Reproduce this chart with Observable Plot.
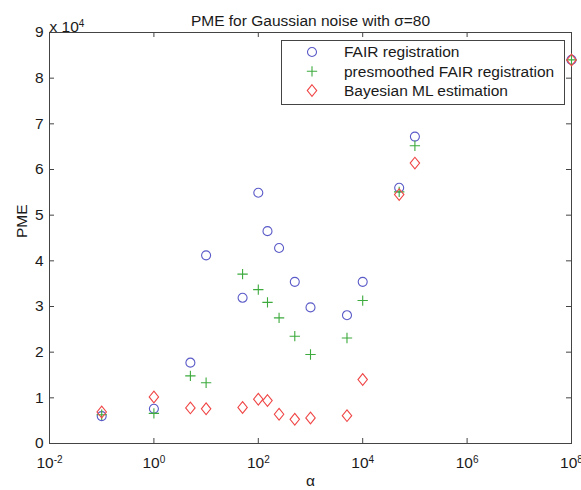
<!DOCTYPE html>
<html><head><meta charset="utf-8">
<script src="https://cdn.jsdelivr.net/npm/d3@7"></script>
<script src="https://cdn.jsdelivr.net/npm/@observablehq/plot@0.6"></script>
<style>body{margin:0;background:#fff} #chart svg{display:block}</style>
</head><body><div id="chart"></div>
<script>
// ---- data ----
const alphas = [0.1, 1, 5, 10, 50, 100, 150, 250, 500, 1000, 5000, 10000, 50000, 100000, 1e8];
const fairPME = [6000, 7600, 17700, 41200, 31900, 54900, 46500, 42800, 35400, 29800, 28100, 35400, 56000, 67200, 84000];
const presmoothedPME = [6300, 6600, 14800, 13300, 37100, 33700, 30900, 27500, 23500, 19500, 23100, 31300, 55100, 65200, 84000];
const bayesPME = [6900, 10200, 7800, 7600, 7900, 9700, 9400, 6400, 5300, 5600, 6100, 14000, 54500, 61400, 84000];
const seriesNames = ["FAIR registration", "presmoothed FAIR registration", "Bayesian ML estimation"];
const seriesColors = ["#5a5ac8", "#3caa3c", "#f04646"];
const xTicks = [1e-2, 1e0, 1e2, 1e4, 1e6, 1e8];
const yTicks = [0, 10000, 20000, 30000, 40000, 50000, 60000, 70000, 80000, 90000];
const titleText = "PME for Gaussian noise with σ=80";
const yLabel = "PME";
const xLabel = "α";

// ---- symbols ----
const circleSym = {draw(ctx, size){ const r = Math.sqrt(size/Math.PI); ctx.moveTo(r,0); ctx.arc(0,0,r,0,2*Math.PI); }};
const plusSym = {draw(ctx, size){ const r = Math.sqrt(size/Math.PI)*1.15; ctx.moveTo(-r,0); ctx.lineTo(r,0); ctx.moveTo(0,-r); ctx.lineTo(0,r); }};
const diamondSym = {draw(ctx, size){ const r = Math.sqrt(size/Math.PI); ctx.moveTo(0,-r*1.3); ctx.lineTo(r*1.05,0); ctx.lineTo(0,r*1.3); ctx.lineTo(-r*1.05,0); ctx.closePath(); }};
const syms = [circleSym, plusSym, diamondSym];
const valueArrays = [fairPME, presmoothedPME, bayesPME];

const W = 581, H = 490, mL = 49, mR = 10, mT = 32, mB = 47;
const plotW = W - mL - mR, plotH = H - mT - mB;
const R = 4.5;
const FS = 15.5;
const axisColor = "#444";
const textColor = "#1a1a1a";

const dotMarks = valueArrays.map((vals, i) =>
  Plot.dot(alphas.map((a, j) => ({a, v: vals[j]})), {
    x: "a", y: "v", symbol: syms[i], r: R, fill: "none", stroke: seriesColors[i], strokeWidth: 1.1
  })
);

const chart = Plot.plot({
  width: W, height: H,
  marginLeft: mL, marginRight: mR, marginTop: mT, marginBottom: mB,
  style: {fontFamily: "'Liberation Sans', Arial, Helvetica, sans-serif", fontSize: FS + "px", color: textColor, background: "#fff", overflow: "visible"},
  x: {type: "log", domain: [1e-2, 1e8]},
  y: {domain: [0, 90000]},
  marks: [
    Plot.frame({stroke: axisColor}),
    Plot.tickX(xTicks, {x: d => d, stroke: axisColor, insetTop: plotH - 5}),
    Plot.tickX(xTicks, {x: d => d, stroke: axisColor, insetBottom: plotH - 5}),
    Plot.tickY(yTicks, {y: d => d, stroke: axisColor, insetRight: plotW - 5}),
    Plot.tickY(yTicks, {y: d => d, stroke: axisColor, insetLeft: plotW - 5}),
    Plot.axisX({ticks: xTicks, tickSize: 0, tickPadding: 13, tickFormat: d => "10|" + Math.round(Math.log10(d)), label: null}),
    Plot.axisY({ticks: yTicks, tickSize: 0, tickPadding: 6, tickFormat: d => String(d / 1e4), label: null}),
    ...dotMarks,
    Plot.text([titleText], {text: d => d, frameAnchor: "top", dy: -18, fontSize: FS, fill: textColor}),
    Plot.text(["x 10|4"], {text: d => d, frameAnchor: "top-left", textAnchor: "start", dy: -12, fontSize: FS, fill: textColor}),
    Plot.text([yLabel], {text: d => d, frameAnchor: "left", rotate: -90, dx: -27, fontSize: FS, fill: textColor}),
    Plot.text([xLabel], {text: d => d, frameAnchor: "bottom", dy: 42, fontSize: FS, fill: textColor})
  ]
});

// superscripts
d3.select(chart).selectAll("text").each(function() {
  const t = this.textContent;
  if (t.includes("|") && this.children.length === 0) {
    const [base, exp] = t.split("|");
    const el = d3.select(this);
    el.text(base);
    el.append("tspan").attr("dy", "-0.45em").attr("font-size", 10).text(exp);
  }
});

// legend
const svg = d3.select(chart);
const lg = svg.append("g").attr("text-anchor", "start");
lg.append("rect").attr("x", 281.5).attr("y", 40.5).attr("width", 283).attr("height", 64)
  .attr("fill", "#fff").attr("stroke", axisColor);
seriesNames.forEach((name, i) => {
  const y = 52 + i * 19.3;
  lg.append("path").attr("transform", `translate(312,${y})`)
    .attr("d", d3.symbol(syms[i], Math.PI * R * R)())
    .attr("fill", "none").attr("stroke", seriesColors[i]).attr("stroke-width", 1.1);
  lg.append("text").attr("x", 344).attr("y", y).attr("dy", "0.35em")
    .attr("text-anchor", "start")
    .attr("fill", textColor).attr("font-size", FS).text(name);
});

document.getElementById("chart").appendChild(chart);
</script>
</body></html>
